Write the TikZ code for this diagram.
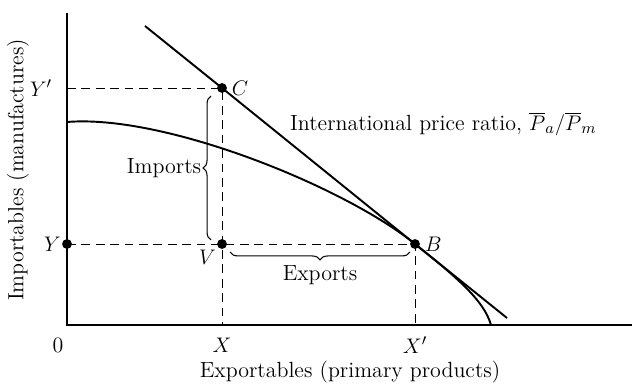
\documentclass[tikz,border=0pt]{standalone}
\usepackage{amsmath}
\usepackage{tikz}
\usetikzlibrary{decorations.pathreplacing}

\begin{document}
\begin{tikzpicture}[
    x=0.02cm, y=-0.02cm,
    axis/.style={line width=0.8pt},
    curve/.style={line width=1.1pt},
    guide/.style={line width=0.5pt, dash pattern=on 5pt off 3.2pt},
    pt/.style={circle, fill, inner sep=0pt, minimum size=5.6pt},
    lbl/.style={font=\fontsize{12.5}{14}\selectfont},
    brc/.style={decorate, decoration={brace, amplitude=4.5pt}, line width=0.6pt},
]
\useasboundingbox (0,0) rectangle (632,384);
% points
\coordinate (O)  at (67,325);
\coordinate (C)  at (222,88);
\coordinate (B)  at (415,244);
\coordinate (V)  at (222,244);
\coordinate (Yp) at (67,88);
\coordinate (Y)  at (67,244);
\coordinate (X)  at (222,325);
\coordinate (Xp) at (415,325);
% axes
\draw[axis] (67,13) -- (O) -- (632,325);
% dashed guides
\draw[guide] (Yp) -- (C) -- (X);
\draw[guide] (Y) -- (B) -- (Xp);
% production possibility curve
\draw[curve] (67,122) .. controls (165,114) and (345,187) .. (B)
    .. controls (455,276) and (484,300) .. (491,325);
% price line
\draw[curve] (145,26) -- (C) -- (B) -- (507,318);
% dots
\node[pt] (c) at (C) {};
\node[pt] (b) at (B) {};
\node[pt] (v) at (V) {};
\node[pt] (y) at (Y) {};
% braces
\draw[brc] (211,240) -- (211,96) node[midway, left=2pt, lbl] (imp) {Imports};
\draw[brc] (410,252) -- (230,252) node[midway, below=4pt, lbl] (exp) {Exports};
% labels
\node[lbl, right] (lc) at (C) {\,$C$};
\node[lbl, right] (lb) at (B) {\,$B$};
\node[lbl, below left] (lv) at (V) {$V$};
\node[lbl, left] (ly) at (Y) {$Y$};
\node[lbl, left=5pt] (lyp) at (Yp) {$Y'$};
\node[lbl] (l0) at (58,345) {0};
\node[lbl] (lx) at (222,345) {$X$};
\node[lbl] (lxp) at (415,345) {$X'$};
\node[lbl, anchor=west] (ratio) at (284,124) {International price ratio, $\overline{P}_a/\overline{P}_m$};
\node[lbl] (xlab) at (350,372) {Exportables (primary products)};
\node[lbl, rotate=90] (ylab) at (18,170) {Importables (manufactures)};
\end{tikzpicture}
\end{document}
